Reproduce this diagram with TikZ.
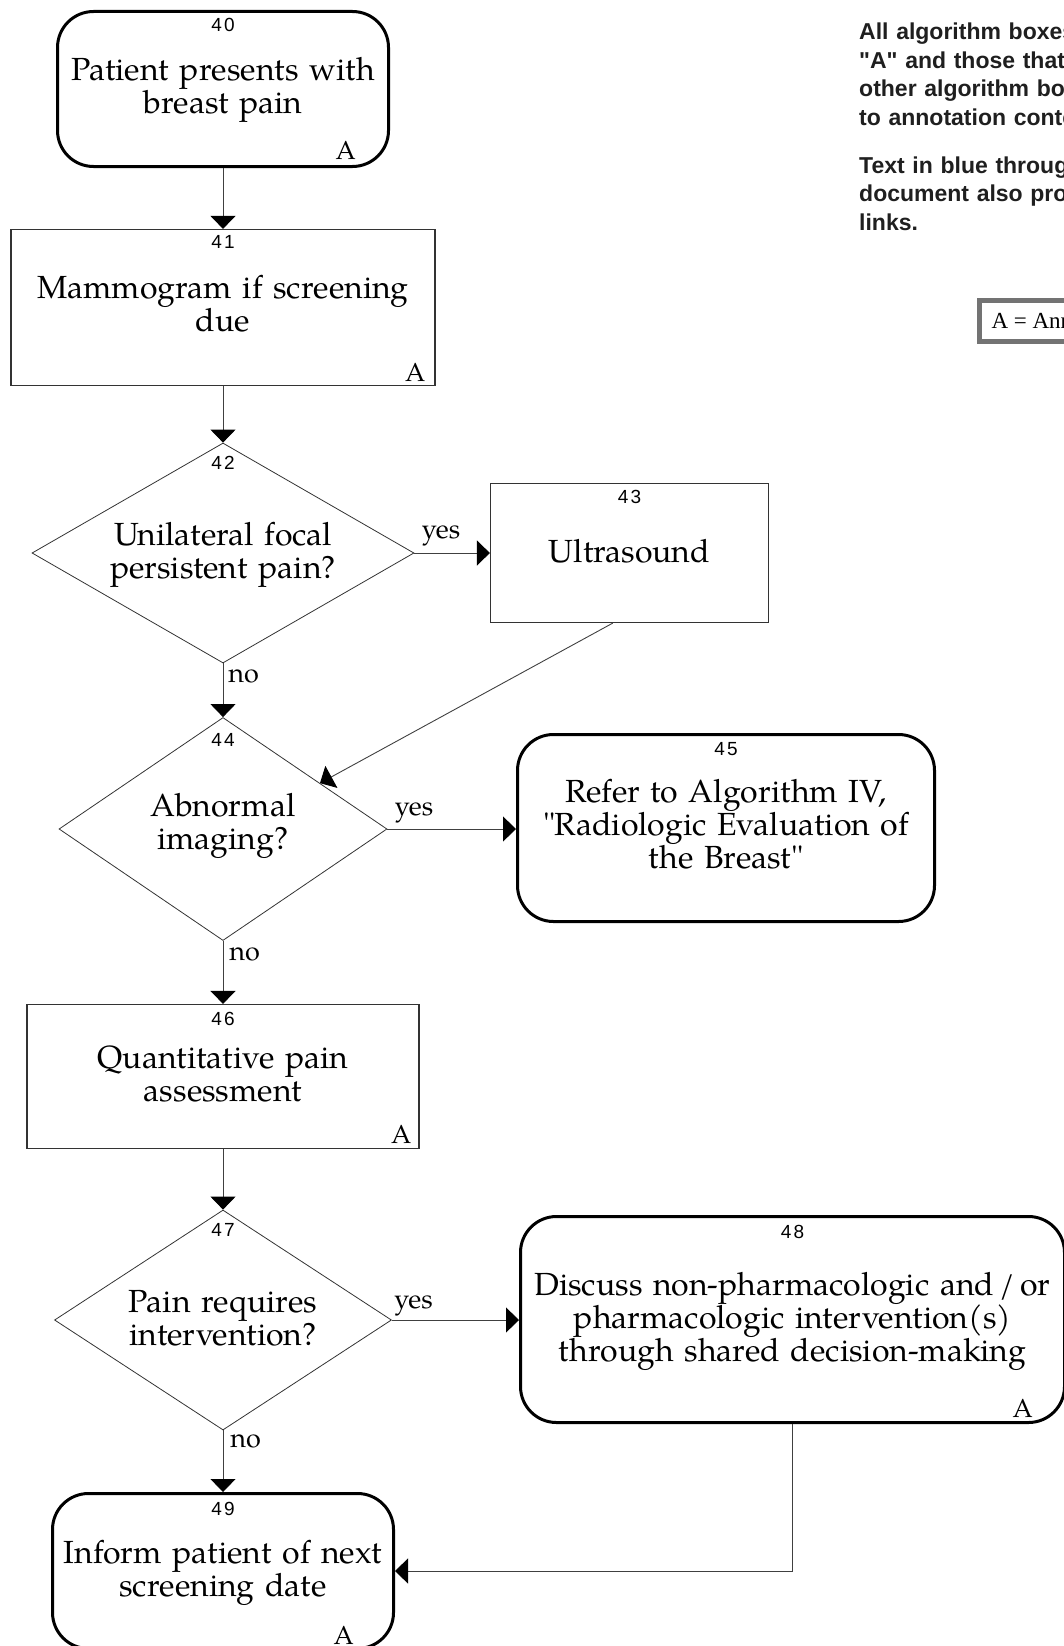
\documentclass[tikz,border=0pt]{standalone}
\usepackage{fontspec}
\setmainfont{texgyrepagella-regular.otf}
\newfontfamily\numfont[LetterSpace=12]{Liberation Sans}
\newfontfamily\notefont{Liberation Sans}
\newfontfamily\keyfont{Liberation Serif}
\usetikzlibrary{shapes.geometric,arrows.meta,calc}

\begin{document}
\begin{tikzpicture}[x=1pt, y=-1pt,
		term/.style={draw, line width=3pt, rounded corners=36pt, inner sep=0pt},
		proc/.style={draw=black!80, line width=1.2pt, inner sep=0pt},
		dec/.style={diamond, draw=black!80, line width=0.8pt, inner sep=0pt},
		txt/.style={anchor=base, text width=#1, align=center, inner sep=0pt, font=\fontsize{32}{33}\selectfont},
		txt/.default=420pt,
		num/.style={anchor=base, inner sep=0pt, font=\numfont\fontsize{19}{22}\selectfont},
		ann/.style={anchor=base east, inner sep=0pt, font=\fontsize{26}{28}\selectfont},
		lbl/.style={anchor=base west, inner sep=0pt, pos=0, font=\fontsize{27}{30}\selectfont},
		l_1/.style={draw=black!75, line width=0.9pt, -{Triangle[length=13pt, width=25pt, color=black]}}]
		\useasboundingbox (0,0) rectangle (1064,1646);
		\clip (0,0) rectangle (1064,1646);
		% boxes and decisions
		\node[term, minimum width=331pt, minimum height=155pt] (b40) at (223,89) {};
		\node[proc, minimum width=424pt, minimum height=156pt] (b41) at (223,307.5) {};
		\node[dec, minimum width=382pt, minimum height=220pt] (b42) at (223,553) {};
		\node[proc, minimum width=278pt, minimum height=139pt] (b43) at (629.5,553) {};
		\node[dec, minimum width=328pt, minimum height=223pt] (b44) at (223,829) {};
		\node[term, minimum width=417pt, minimum height=187pt] (b45) at (726,828) {};
		\node[proc, minimum width=392pt, minimum height=144pt] (b46) at (223,1076.5) {};
		\node[dec, minimum width=337pt, minimum height=220pt] (b47) at (223,1320) {};
		\node[term, minimum width=544pt, minimum height=206pt] (b48) at (792.5,1319.5) {};
		\node[term, minimum width=341pt, minimum height=155pt] (b49) at (223,1571) {};
		% box numbers and annotation marks
		\foreach \n/\dy in {40/22,41/20,42/27,43/21,44/29,45/22,46/22,47/27,48/23,49/23} {
			\node[num] (k\n) at ($(b\n.north)+(0,\dy)$) {\n};
		};
		\foreach \n/\dx/\dy in {40/-34/-9,41/-10/-5,46/-8/-6,48/-33/-7,49/-41/-6} {
			\node[ann] (a\n) at ($(b\n.south east)+(\dx,\dy)$) {A};
		};
		% box texts
		\node[txt] (t40) at (223,81) {Patient presents with\\breast pain};
		\node[txt] (t41) at (223,298) {Mammogram if screening\\due};
		\node[txt] (t42) at (223,545) {Unilateral focal\\persistent pain?};
		\node[txt] (t43) at (629.5,562) {Ultrasound};
		\node[txt] (t44) at (223,816) {Abnormal\\imaging?};
		\node[txt] (t45) at (726,802) {Refer to Algorithm IV,\\\textquotedbl Radiologic Evaluation of\\the Breast\textquotedbl};
		\node[txt=540pt] (t48) at (792.5,1295) {Discuss non-pharmacologic and\,/\,or\\pharmacologic intervention(s)\\through shared decision-making};
		\node[txt] (t46) at (223,1068) {Quantitative pain\\assessment};
		\node[txt] (t47) at (223,1312) {Pain requires\\intervention?};
		\node[txt] (t49) at (223,1563) {Inform patient of next\\screening date};
		% connectors
		\draw[l_1] (b40) -- (b41);
		\draw[l_1] (b41) -- (b42);
		\draw[l_1] (b42) -- node[lbl, xshift=7pt, yshift=15pt] (y42) {yes} (b43);
		\draw[l_1] (b42) -- node[lbl, xshift=5pt, yshift=-19pt] (no42) {no} (b44);
		\draw[l_1] ($(b43.south west)!0.44!(b43.south east)$) -- ($(b44.north)!0.59!(b44.east)$);
		\draw[l_1] (b44.east) -- node[lbl, xshift=7pt, yshift=14pt] (y44) {yes} (b44.east -| b45.west);
		\draw[l_1] (b44) -- node[lbl, xshift=6pt, yshift=-20pt] (no44) {no} (b46);
		\draw[l_1] (b46) -- (b47);
		\draw[l_1] (b47.east) -- node[lbl, xshift=2pt, yshift=12pt] (y47) {yes} (b47.east -| b48.west);
		\draw[l_1] (b47) -- node[lbl, xshift=7pt, yshift=-17pt] (no47) {no} (b49);
		\draw[l_1] (b48.south) |- (b49.east);
		% note and key
		\node[anchor=base west, text width=400pt, align=left, inner sep=0pt, text=black!88,
			font=\notefont\bfseries\fontsize{23}{28.5}\selectfont] (note) at (859,40)
			{All algorithm boxes\\"A" and those that\\other algorithm boxes\\to annotation content\\[19.5pt]Text in blue throughout\\document also provides\\links.};
		\node[draw=black!55, line width=5pt, minimum height=41pt, inner xsep=12pt, anchor=west,
			font=\keyfont\fontsize{23}{26}\selectfont] (key) at (977,320.5) {A = Annotation};
\end{tikzpicture}
\end{document}
